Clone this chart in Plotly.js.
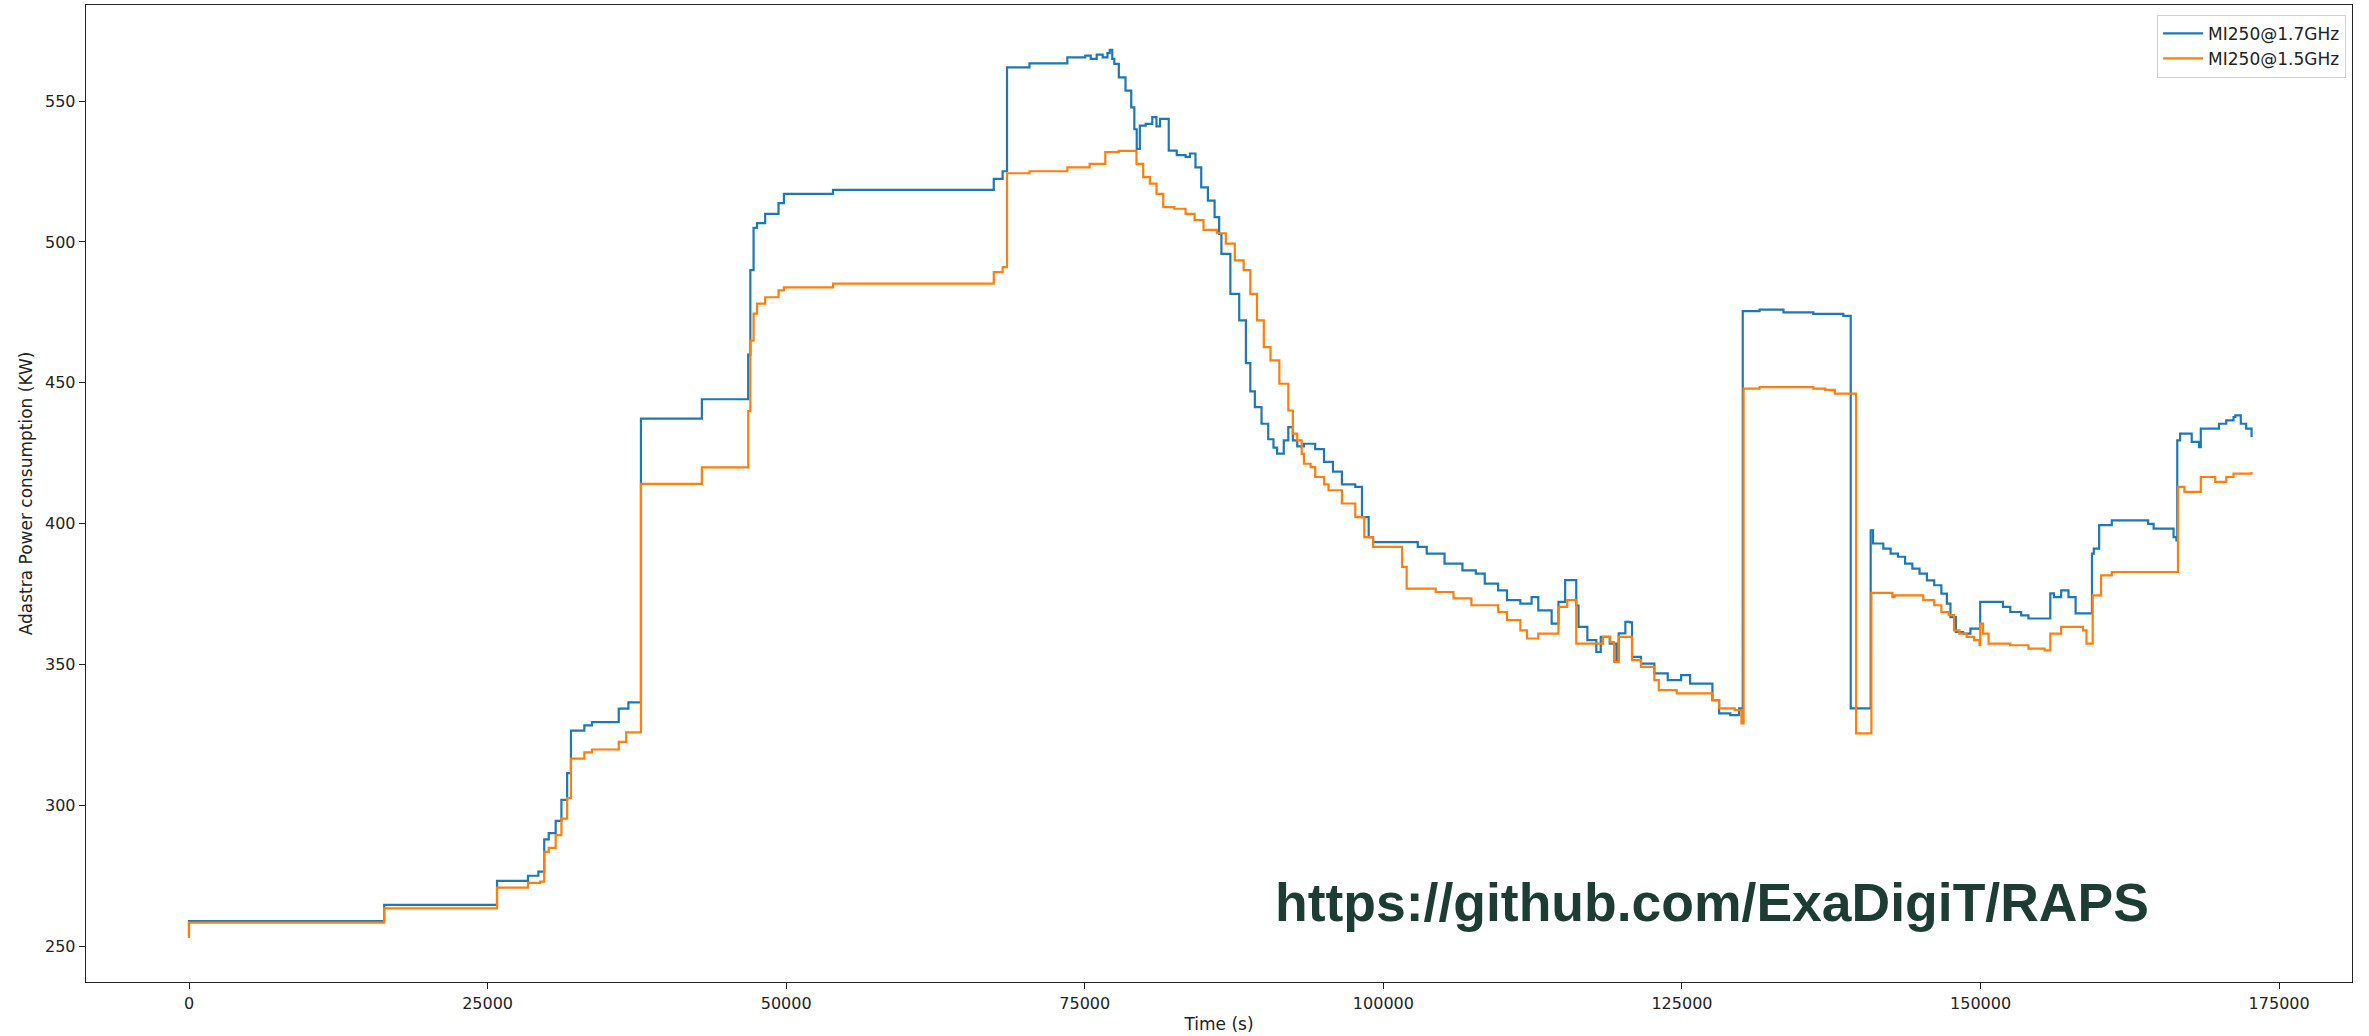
<!DOCTYPE html>
<html>
<head>
<meta charset="utf-8">
<script src="https://cdn.plot.ly/plotly-3.0.1.min.js"></script>
<style>
  html, body { margin: 0; padding: 0; background: #fff; }
  #chart { width: 2369px; height: 1036px; }
</style>
</head>
<body>
<div id="chart"></div>
<script>
// ---- Data ----
const seriesNames = ["MI250@1.7GHz", "MI250@1.5GHz"];

const timeHigh = [0, 0, 16340, 25790, 28380, 29250, 29740, 30120, 30700, 31180, 31660, 31980, 33100, 33740, 35980, 36790,
  37840, 42940, 46820, 47000, 47270, 47560, 48240, 49360, 49810, 53920, 67380, 68120, 68490, 70370, 73540, 75040, 75500,
  76000, 76500, 76900, 77090, 77300, 77470, 77850, 78410, 78890, 79150, 79350, 79610, 80100, 80650, 81000, 81300, 81760,
  82030, 82700, 83440, 83810, 84270, 84750, 85310, 85870, 86250, 86440, 87190, 87930, 88490, 88860, 89240, 89800, 90360,
  90800, 91100, 91660, 92040, 92420, 92790, 93350, 94290, 95030, 95780, 96530, 97650, 98210, 98770, 99140, 102880, 103630,
  105120, 106620, 107740, 108490, 109610, 110350, 111470, 112410, 112970, 114090, 114660, 115220, 116150, 116340, 117080,
  117830, 118200, 118950, 119510, 119700, 120260, 120630, 120820, 121570, 122690, 123810, 124930, 125680, 127550, 128110,
  129050, 129790, 130090, 131500, 133500, 136000, 138510, 139130, 140800, 141000, 141860, 142470, 143080, 143680, 144290,
  144890, 145510, 146120, 146720, 147180, 147480, 147930, 148540, 149150, 149970, 151880, 152490, 153400, 154010, 155840,
  156140, 156750, 157360, 157960, 159330, 159480, 159930, 160990, 164030, 164490, 166160, 166400, 166470, 166710, 167680,
  168290, 168440, 169960, 170570, 171180, 171330, 171790, 172240, 172690];
const powerHigh = [253.5, 259, 264.8, 273.3, 275.1, 276.6, 288, 290.2, 294.6, 302, 311.5, 326.6, 328.5, 329.6, 334.4, 336.6,
  437.3, 444.2, 460, 490, 505, 506.7, 510, 513.8, 517.1, 518.5, 522.4, 525.1, 562, 563.4, 565.5, 566.1, 565,
  566.5, 565.5, 567, 568.2, 565, 563.2, 558.4, 553.7, 547.8, 540, 533, 541.3, 541.9, 544.3, 541, 543.7, 543.7,
  532.4, 530.8, 530.2, 531.4, 526.5, 519.4, 514.7, 508.8, 502.9, 495.8, 481.6, 472.2, 457, 447, 441.4, 435.5, 430,
  427, 424.9, 429.6, 434.3, 429.6, 427.5, 428.4, 426.5, 422, 418.5, 414, 413.1, 402.4, 395.3, 393.5, 391.8, 389.4,
  385.9, 383.5, 382.3, 378.8, 376.4, 372.9, 371.7, 374, 369.3, 364.6, 372.3, 380, 371, 363.4, 358.7,
  354.5, 359.9, 357.5, 351.6, 361.1, 365.2, 365, 352.8, 350.4, 346.9, 344.5, 346.3, 343.3, 337.4, 332.7,
  332.1, 334.5, 475.5, 476, 475, 474.5, 473.8, 334.5, 397.7, 393, 391.2, 389.4, 388.3, 385.9, 384.1,
  382.3, 379.9, 378.2, 375.2, 371.7, 366.9, 361.6, 361, 362.8, 372.3, 370.5, 368.7, 367.5, 366.4, 375.3,
  374, 376.4, 374, 368.2, 389.4, 391.2, 399.5, 401.2, 400, 398.3, 395.3, 394.1, 429.6, 432, 429.1,
  427.2, 433.8, 435.5, 436.7, 437.9, 438.5, 435.5, 433.8, 430.8];

const timeLow = [0, 0, 16340, 25790, 28380, 29400, 29740, 30120, 30700, 31180, 31660, 31980, 33100, 33740, 35980, 36600,
  37840, 42940, 46820, 47000, 47270, 47560, 48240, 49360, 49810, 53920, 67380, 68120, 68490, 70370, 73540, 75410, 76720,
  77840, 78780, 79330, 79890, 80450, 81010, 81570, 82500, 83440, 84190, 84940, 86060, 86810, 87560, 88300, 88860, 89420,
  89990, 90550, 91290, 92040, 92420, 92790, 93160, 93350, 93910, 94290, 95040, 95410, 96530, 97650, 98400, 99140, 101570,
  101950, 104380, 105870, 107370, 109610, 110350, 111470, 112030, 112970, 114660, 115400, 116150, 118390, 119000, 119320,
  119700, 120820, 121570, 122690, 123060, 124560, 127550, 128110, 129420, 129980, 130160, 131500, 136000, 137000, 137800,
  139580, 140860, 142620, 142800, 145200, 146120, 146720, 147330, 147780, 148230, 148840, 149460, 149910, 149970, 150210,
  150670, 152490, 154010, 155370, 155840, 156750, 158570, 158870, 159390, 160090, 160990, 166530, 167070, 168440, 169650,
  170570, 171180, 172690];
const powerLow = [253, 258.5, 263.5, 270.9, 272.6, 273, 283.6, 285, 289.5, 295.4, 302.7, 316.7, 318.9, 319.9, 322.6, 326,
  414.2, 420, 440, 465, 474.6, 478.1, 480.4, 482.8, 483.9, 485.2, 489.3, 491.1, 524.4, 525.1, 526.5, 527.7, 531.9,
  532.3, 532.3, 527.7, 523, 520.7, 517.1, 512.4, 511.8, 510, 507.8, 504.3, 503.1, 499.4, 493.5, 490, 481.6, 472.2,
  462.7, 458, 449.7, 440.2, 432, 429.6, 424.8, 421.3, 420.1, 416.6, 414, 411.9, 407.2, 402.4, 395.3, 391.8, 384.7,
  377, 375.8, 373.5, 371.1, 368.7, 365.8, 362.2, 359.3, 361, 370.5, 372.9, 357.5, 359.9, 358, 351,
  359.9, 351.6, 349.2, 344.5, 341, 339.8, 337.4, 334.5, 333.9, 329.2, 448, 448.5, 448, 447.5, 446.2,
  325.6, 375.5, 374, 374.6, 372.9, 371.1, 368.7, 367.6, 362.2, 361, 359.9, 358.7, 356.9, 364.6, 361,
  357.5, 356.9, 355.7, 355.1, 361, 363.4, 362.2, 357.5, 374.6, 381.7, 382.9, 413.1, 411.3, 416.6, 414.9,
  416.6, 417.8, 418.4];

const xTickVals = [0, 25000, 50000, 75000, 100000, 125000, 150000, 175000];
const xTickText = ["0", "25000", "50000", "75000", "100000", "125000", "150000", "175000"];
const yTickVals = [250, 300, 350, 400, 450, 500, 550];
const yTickText = ["250", "300", "350", "400", "450", "500", "550"];

const xTitle = "Time (s)";
const yTitle = "Adastra Power consumption (KW)";
const watermark = "https://github.com/ExaDigiT/RAPS";

// ---- Traces ----
const traces = [
  {
    x: timeHigh, y: powerHigh, name: seriesNames[0], type: "scatter", mode: "lines",
    line: { color: "#1f77b4", width: 2.2, shape: "hv" }
  },
  {
    x: timeLow, y: powerLow, name: seriesNames[1], type: "scatter", mode: "lines",
    line: { color: "#ff7f0e", width: 2.2, shape: "hv" }
  }
];

const tickFont = { family: "DejaVu Sans, sans-serif", size: 16, color: "#222" };

const layout = {
  width: 2369,
  height: 1036,
  paper_bgcolor: "#ffffff",
  plot_bgcolor: "#ffffff",
  margin: { l: 86, r: 17, t: 5, b: 54 },
  showlegend: true,
  legend: {
    x: 0.9974, xanchor: "right", y: 0.99, yanchor: "top",
    bgcolor: "rgba(255,255,255,0.9)", bordercolor: "#d0d0d0", borderwidth: 1,
    font: { family: "DejaVu Sans, sans-serif", size: 17, color: "#222" },
    itemwidth: 40
  },
  xaxis: {
    range: [-8624, 181100],
    tickmode: "array", tickvals: xTickVals, ticktext: xTickText,
    showgrid: false, zeroline: false,
    showline: true, mirror: true, linecolor: "#222", linewidth: 1.3,
    ticks: "outside", ticklen: 6, tickcolor: "#222", tickwidth: 1,
    tickfont: tickFont,
    automargin: false,
    title: { text: xTitle, font: { family: "DejaVu Sans, sans-serif", size: 17, color: "#222" }, standoff: 6 }
  },
  yaxis: {
    range: [237.4, 584.1],
    tickmode: "array", tickvals: yTickVals, ticktext: yTickText,
    showgrid: false, zeroline: false,
    showline: true, mirror: true, linecolor: "#222", linewidth: 1.3,
    ticks: "outside", ticklen: 6, tickcolor: "#222", tickwidth: 1,
    tickfont: tickFont,
    automargin: false,
    title: { text: yTitle, font: { family: "DejaVu Sans, sans-serif", size: 17, color: "#222" }, standoff: 8 }
  },
  annotations: [
    {
      text: "<b>" + watermark + "</b>",
      xref: "paper", yref: "paper",
      x: 0.524, xanchor: "left",
      y: 0.081, yanchor: "middle",
      showarrow: false,
      font: { family: "Liberation Sans, Arial, sans-serif", size: 53.5, color: "#1d3c33" }
    }
  ]
};

Plotly.newPlot("chart", traces, layout, { displayModeBar: false, staticPlot: true });
</script>
</body>
</html>
